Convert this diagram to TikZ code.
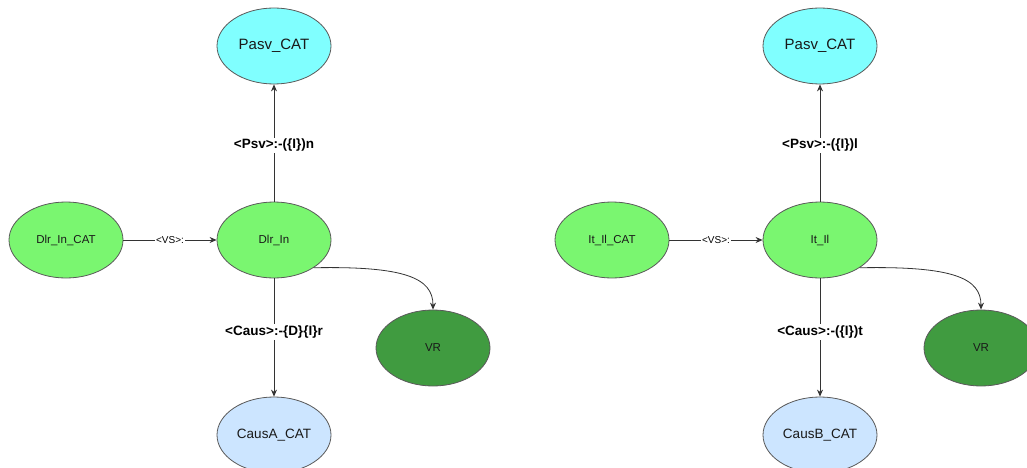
\documentclass[tikz,border=0pt]{standalone}
\usepackage{fontspec}
\setmainfont{Liberation Sans}
\usetikzlibrary{shapes.geometric,arrows.meta}
\definecolor{lgreen}{RGB}{122,246,112}
\definecolor{lcyan}{RGB}{128,255,255}
\definecolor{lblue}{RGB}{204,229,255}
\definecolor{dgreen}{RGB}{64,155,64}
\definecolor{edgegray}{RGB}{90,90,90}
\tikzset{
  ell/.style={ellipse, draw=edgegray, line width=0.8pt, minimum width=114pt, minimum height=76pt, inner sep=0pt, text=black!90},
  midnode/.style={ell, fill=lgreen, font=\fontsize{11.5}{13}\selectfont},
  topnode/.style={ell, fill=lcyan, font=\fontsize{15}{17}\selectfont},
  botnode/.style={ell, fill=lblue, font=\fontsize{13.5}{16}\selectfont},
  vrnode/.style={ell, fill=dgreen, font=\fontsize{11.5}{13}\selectfont},
  conn/.style={draw=black!80, line width=0.8pt, -{Stealth[length=7pt,width=6pt]}},
  blab/.style={fill=white, inner sep=1.5pt, font=\bfseries\fontsize{13.5}{15}\selectfont},
  slab/.style={fill=white, inner sep=1pt, font=\fontsize{10}{12}\selectfont},
}
\begin{document}
\begin{tikzpicture}[x=1pt,y=-1pt]
\useasboundingbox (0,0) rectangle (1027,468);
% left group
\node[topnode] (P1) at (274,46) {Pasv\_CAT};
\node[midnode] (D1) at (274,240) {Dlr\_In};
\node[midnode] (C1) at (66,240) {Dlr\_In\_CAT};
\node[botnode] (B1) at (274,435) {CausA\_CAT};
\node[vrnode] (V1) at (433,348) {VR};
\draw[conn] (C1) -- node[slab] {<VS>:} (D1);
\draw[conn] (D1) -- node[blab, pos=0.48] {<Psv>:-(\{I\})n} (P1);
\draw[conn] (D1) -- node[blab, pos=0.455] {<Caus>:-\{D\}\{I\}r} (B1);
\draw[conn] (D1.-35) .. controls (405,266) and (433,278) .. (V1.north);
% right group
\node[topnode] (P2) at (820,46) {Pasv\_CAT};
\node[midnode] (D2) at (820,240) {It\_Il};
\node[midnode] (C2) at (612,240) {It\_Il\_CAT};
\node[botnode] (B2) at (820,435) {CausB\_CAT};
\node[vrnode] (V2) at (981,348) {VR};
\draw[conn] (C2) -- node[slab] {<VS>:} (D2);
\draw[conn] (D2) -- node[blab, pos=0.48] {<Psv>:-(\{I\})l} (P2);
\draw[conn] (D2) -- node[blab, pos=0.455] {<Caus>:-(\{I\})t} (B2);
\draw[conn] (D2.-35) .. controls (953,266) and (981,278) .. (V2.north);
\end{tikzpicture}
\end{document}
